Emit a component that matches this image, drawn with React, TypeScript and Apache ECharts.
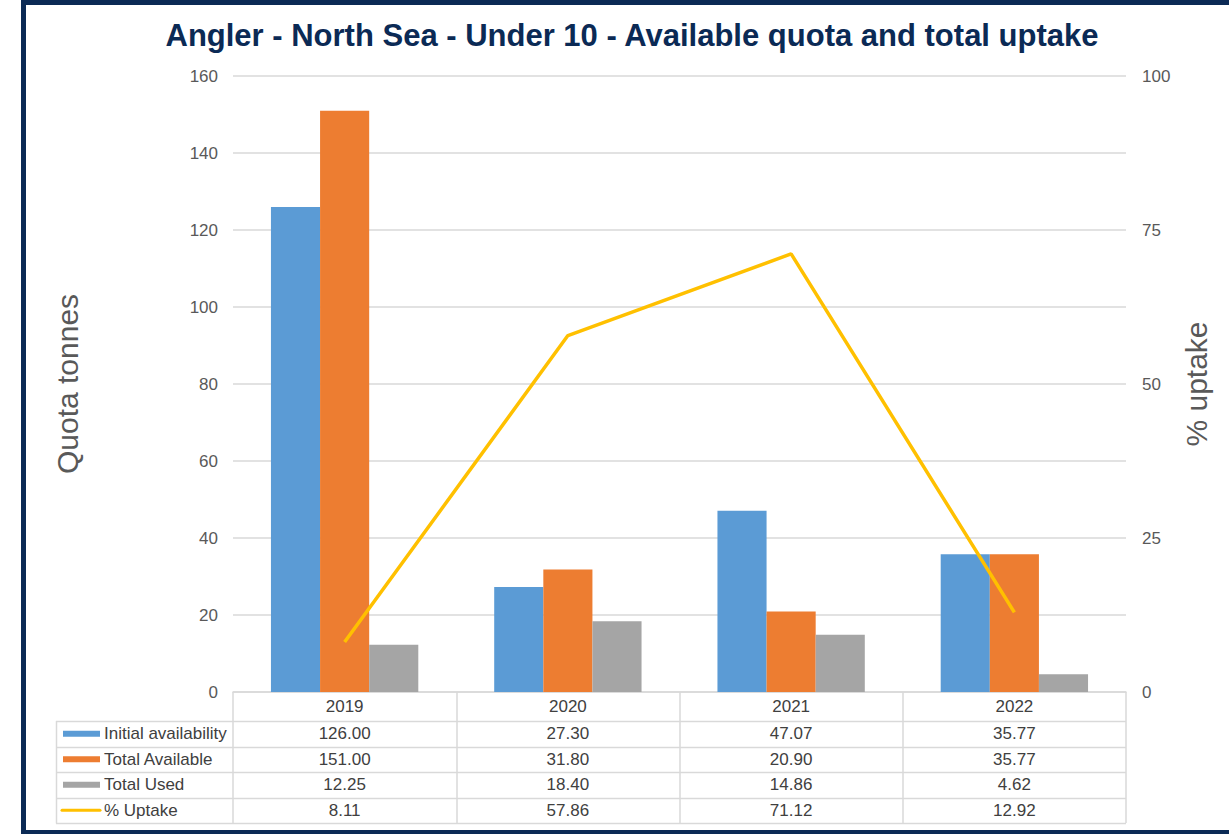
import React, { useEffect, useRef } from "react";
import * as echarts from "echarts";

const years = ["2019", "2020", "2021", "2022"];
const initialAvailability = [126.0, 27.3, 47.07, 35.77];
const totalAvailable = [151.0, 31.8, 20.9, 35.77];
const totalUsed = [12.25, 18.4, 14.86, 4.62];
const uptakePct = [8.11, 57.86, 71.12, 12.92];
const leftTicks = { min: 0, max: 160, interval: 20 };
const rightTicks = { min: 0, max: 100, interval: 25 };

const seriesNames = ["Initial availability", "Total Available", "Total Used", "% Uptake"];
const colors = ["#5B9BD5", "#ED7D31", "#A5A5A5", "#FFC000"];

const GRID_L = 233;
const GRID_R = 1126;
const GRID_T = 76;
const GRID_B = 692;
const HEADER_H = 29;
const ROW_H = 25.5;
const TABLE_L = 56;
const FONT = "Liberation Sans, Arial, sans-serif";
const TEXT = "#404040";
const AXIS_TEXT = "#595959";
const LINE = "#D9D9D9";
const NAVY = "#0B2A55";

export default function App() {
  const ref = useRef<HTMLDivElement>(null);
  useEffect(() => {
    if (!ref.current) return;
    const chart = echarts.init(ref.current, null, { renderer: "svg" });
    const rows = [initialAvailability, totalAvailable, totalUsed, uptakePct];
    const tableTop = GRID_B + HEADER_H;
    const tableBottom = tableTop + ROW_H * 4;

    const graphics: any[] = [];
    graphics.push({
      type: "rect",
      shape: { x: 23.5, y: 2.5, width: 1300, height: 830 },
      style: { fill: "none", stroke: NAVY, lineWidth: 5 },
      silent: true,
    });
    for (let r = 0; r <= 4; r++) {
      const y = Math.round(tableTop + r * ROW_H) + 0.5;
      graphics.push({
        type: "line",
        shape: { x1: TABLE_L, y1: y, x2: GRID_R, y2: y },
        style: { stroke: LINE, lineWidth: 1.5 },
        silent: true,
      });
    }
    graphics.push({
      type: "line",
      shape: { x1: TABLE_L + 0.5, y1: tableTop, x2: TABLE_L + 0.5, y2: tableBottom + 0.5 },
      style: { stroke: LINE, lineWidth: 1.5 },
      silent: true,
    });
    seriesNames.forEach((name, r) => {
      const cy = tableTop + r * ROW_H + ROW_H / 2;
      if (r < 3) {
        graphics.push({
          type: "rect",
          shape: { x: 63, y: cy - 3, width: 37, height: 6 },
          style: { fill: colors[r] },
          silent: true,
        });
      } else {
        graphics.push({
          type: "line",
          shape: { x1: 62, y1: cy, x2: 100, y2: cy },
          style: { stroke: colors[r], lineWidth: 3, lineCap: "round" },
          silent: true,
        });
      }
      graphics.push({
        type: "text",
        x: 104,
        y: cy,
        style: {
          text: name,
          fill: TEXT,
          font: `17px ${FONT}`,
          verticalAlign: "middle",
        },
        silent: true,
      });
    });

    const option: any = {
      animation: false,
      backgroundColor: "#ffffff",
      title: {
        text: "Angler - North Sea - Under 10 - Available quota and total uptake",
        left: 627,
        top: 15,
        textAlign: "center",
        textStyle: { fontFamily: FONT, fontSize: 31, fontWeight: "bold", color: NAVY },
      },
      grid: { left: GRID_L, right: 1229 - GRID_R, top: GRID_T, bottom: 834 - GRID_B },
      xAxis: {
        type: "category",
        data: years,
        boundaryGap: true,
        axisLine: { show: true, lineStyle: { color: LINE, width: 1.5 } },
        axisTick: { show: true, length: HEADER_H + ROW_H * 4, lineStyle: { color: LINE, width: 1.5 } },
        axisLabel: {
          interval: 0,
          margin: 0,
          fontFamily: FONT,
          color: TEXT,
          formatter: (v: string, i: number) =>
            [`{h|${v}}`, ...rows.map((arr) => `{v|${arr[i].toFixed(2)}}`)].join("\n"),
          rich: {
            h: { fontSize: 17, lineHeight: HEADER_H, color: TEXT, fontFamily: FONT },
            v: { fontSize: 17, lineHeight: ROW_H, color: TEXT, fontFamily: FONT },
          },
        },
      },
      yAxis: [
        {
          type: "value",
          ...leftTicks,
          name: "Quota tonnes",
          nameLocation: "middle",
          nameGap: 151,
          nameTextStyle: { fontFamily: FONT, fontSize: 30, color: AXIS_TEXT },
          axisLine: { show: false },
          axisTick: { show: false },
          axisLabel: { fontFamily: FONT, fontSize: 17, color: AXIS_TEXT, margin: 15 },
          splitLine: { lineStyle: { color: LINE, width: 1.5 } },
        },
        {
          type: "value",
          ...rightTicks,
          name: "% uptake",
          nameLocation: "middle",
          nameGap: 54,
          nameRotate: 90,
          nameTextStyle: { fontFamily: FONT, fontSize: 30, color: AXIS_TEXT },
          axisLine: { show: false },
          axisTick: { show: false },
          axisLabel: { fontFamily: FONT, fontSize: 17, color: AXIS_TEXT, margin: 16 },
          splitLine: { show: false },
        },
      ],
      series: [
        {
          name: seriesNames[0],
          type: "bar",
          data: initialAvailability,
          itemStyle: { color: colors[0] },
          barGap: "0%",
          barCategoryGap: "34%",
        },
        {
          name: seriesNames[1],
          type: "bar",
          data: totalAvailable,
          itemStyle: { color: colors[1] },
          barGap: "0%",
          barCategoryGap: "34%",
        },
        {
          name: seriesNames[2],
          type: "bar",
          data: totalUsed,
          itemStyle: { color: colors[2] },
          barGap: "0%",
          barCategoryGap: "34%",
        },
        {
          name: seriesNames[3],
          type: "line",
          yAxisIndex: 1,
          data: uptakePct,
          showSymbol: false,
          symbol: "none",
          lineStyle: { color: colors[3], width: 3.5 },
          itemStyle: { color: colors[3] },
          z: 5,
        },
      ],
      graphic: graphics,
    };
    chart.setOption(option);
    return () => chart.dispose();
  }, []);
  return (
    <div
      ref={ref}
      style={{ position: "absolute", left: 0, top: 0, width: 1229, height: 834, background: "#fff" }}
    />
  );
}
